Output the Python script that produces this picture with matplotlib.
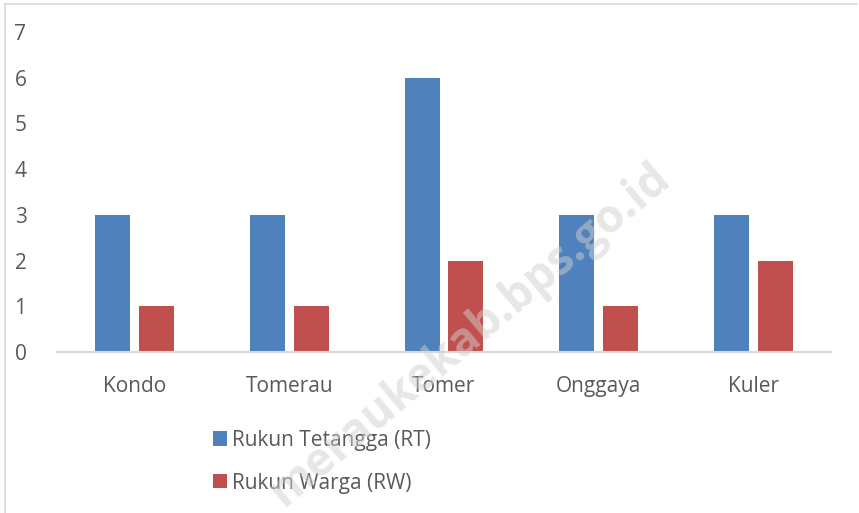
import matplotlib
matplotlib.use("Agg")
import matplotlib.pyplot as plt
from matplotlib.patches import Patch
from matplotlib.lines import Line2D
import numpy as np

categories = ["Kondo", "Tomerau", "Tomer", "Onggaya", "Kuler"]
rt_values = [3, 3, 6, 3, 3]
rw_values = [1, 1, 2, 1, 2]
series_labels = ["Rukun Tetangga (RT)", "Rukun Warga (RW)"]
yticks = [0, 1, 2, 3, 4, 5, 6, 7]

blue = "#4F81BD"
red = "#C0504D"
txt = "#595959"
font = "Open Sans"

fig = plt.figure(figsize=(8.59, 5.13), dpi=100)
ax = fig.add_axes([57/859, 1-352/513, (831-57)/859, (352-32)/513])

x = np.arange(len(categories))
w = 0.226
off = 0.142
ax.bar(x - off, rt_values, w, color=blue, label=series_labels[0])
ax.bar(x + off, rw_values, w, color=red, label=series_labels[1])

ax.set_xlim(-0.5, len(categories) - 0.5)
ax.set_ylim(0, 7)
ax.set_yticks(yticks)
ax.set_xticks(x)
ax.set_xticklabels(categories)
for s in ["top", "right", "left"]:
    ax.spines[s].set_visible(False)
ax.spines["bottom"].set_color("#d9d9d9")
ax.spines["bottom"].set_linewidth(1.5)
ax.tick_params(axis="both", length=0, labelsize=15, colors=txt)
ax.tick_params(axis="y", pad=22)
ax.tick_params(axis="x", pad=17)
for lab in ax.get_xticklabels() + ax.get_yticklabels():
    lab.set_family(font)
    lab.set_color(txt)

# legend
handles = [Patch(facecolor=blue), Patch(facecolor=red)]
leg = fig.legend(handles, series_labels, loc="upper left",
                 bbox_to_anchor=(194/859, 1-411/513), frameon=False,
                 handlelength=0.68, handleheight=0.68, handletextpad=0.25,
                 labelspacing=1.05, prop={"family": font, "size": 15})
for t in leg.get_texts():
    t.set_color(txt)

# border lines
fig.add_artist(Line2D([5/859, 5/859], [0, 1-4/513], transform=fig.transFigure,
                      color="#d9d9d9", lw=1.2))
fig.add_artist(Line2D([5/859, 857/859], [1-4/513, 1-4/513], transform=fig.transFigure,
                      color="#d9d9d9", lw=1.2))

# watermark
fig.text(470/859, 1-335/513, "meraukekab.bps.go.id", rotation=40,
         ha="center", va="center", fontsize=33, fontweight="bold",
         family=font, color="#d0d0d0", alpha=0.5, zorder=10)

fig.savefig("out.png", dpi=100)
